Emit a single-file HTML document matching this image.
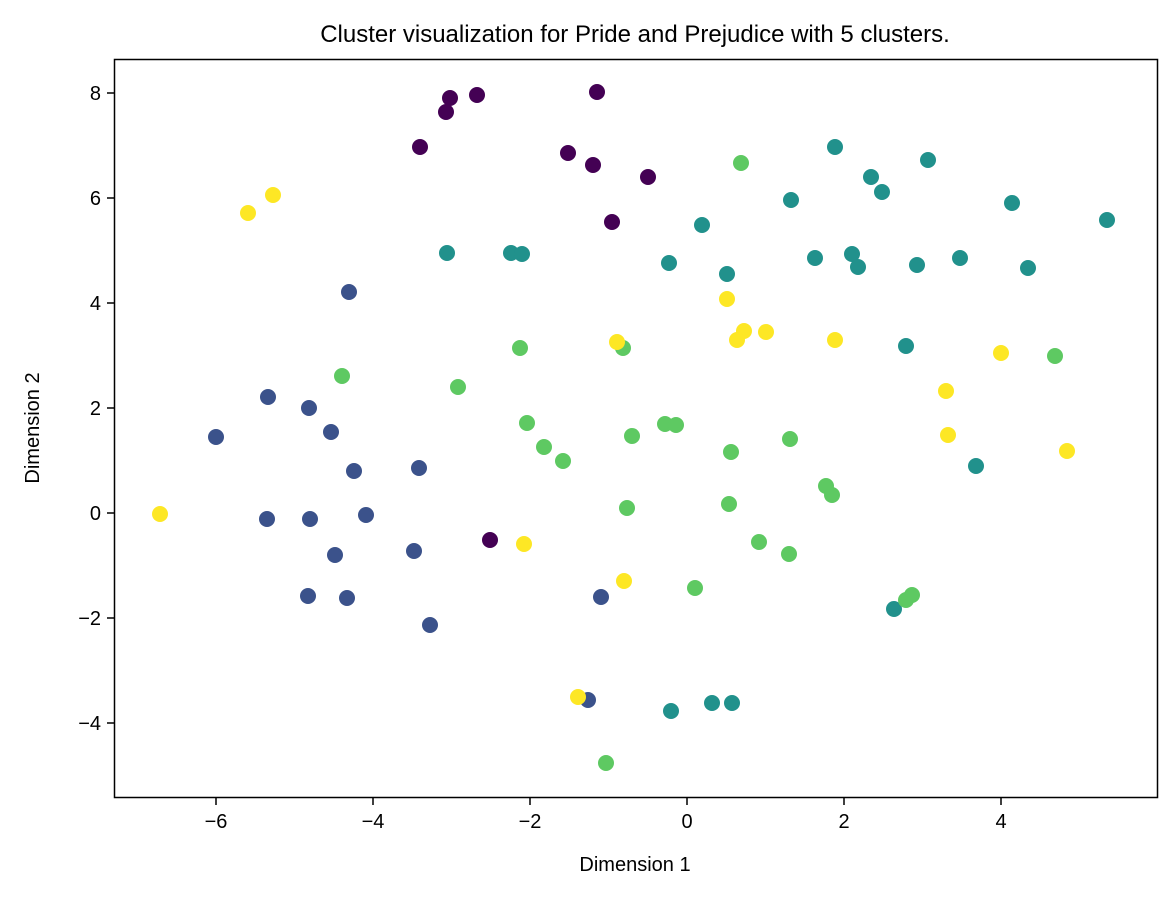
<!DOCTYPE html>
<html><head><meta charset="utf-8"><style>body{margin:0;background:#fff}svg{display:block}text{font-family:"Liberation Sans","DejaVu Sans",sans-serif;fill:#000}</style></head>
<body>
<svg width="1174" height="898" viewBox="0 0 1174 898" xmlns="http://www.w3.org/2000/svg">
<rect width="1174" height="898" fill="#fff"/>
<g stroke="none">
<g fill="#440154">
<circle cx="450" cy="98" r="8"/><circle cx="446" cy="112" r="8"/><circle cx="477" cy="95" r="8"/><circle cx="597" cy="92" r="8"/><circle cx="420" cy="147" r="8"/><circle cx="568" cy="153" r="8"/><circle cx="593" cy="165" r="8"/><circle cx="648" cy="177" r="8"/><circle cx="612" cy="222" r="8"/><circle cx="490" cy="540" r="8"/>
</g>
<g fill="#3b528b">
<circle cx="349" cy="292" r="8"/><circle cx="268" cy="397" r="8"/><circle cx="309" cy="408" r="8"/><circle cx="331" cy="432" r="8"/><circle cx="216" cy="437" r="8"/><circle cx="354" cy="471" r="8"/><circle cx="419" cy="468" r="8"/><circle cx="267" cy="519" r="8"/><circle cx="310" cy="519" r="8"/><circle cx="366" cy="515" r="8"/><circle cx="335" cy="555" r="8"/><circle cx="414" cy="551" r="8"/><circle cx="308" cy="596" r="8"/><circle cx="347" cy="598" r="8"/><circle cx="430" cy="625" r="8"/><circle cx="601" cy="597" r="8"/><circle cx="588" cy="700" r="8"/>
</g>
<g fill="#21918c">
<circle cx="447" cy="253" r="8"/><circle cx="511" cy="253" r="8"/><circle cx="522" cy="254" r="8"/><circle cx="669" cy="263" r="8"/><circle cx="702" cy="225" r="8"/><circle cx="727" cy="274" r="8"/><circle cx="791" cy="200" r="8"/><circle cx="835" cy="147" r="8"/><circle cx="871" cy="177" r="8"/><circle cx="882" cy="192" r="8"/><circle cx="928" cy="160" r="8"/><circle cx="815" cy="258" r="8"/><circle cx="852" cy="254" r="8"/><circle cx="858" cy="267" r="8"/><circle cx="917" cy="265" r="8"/><circle cx="960" cy="258" r="8"/><circle cx="1012" cy="203" r="8"/><circle cx="1028" cy="268" r="8"/><circle cx="1107" cy="220" r="8"/><circle cx="906" cy="346" r="8"/><circle cx="976" cy="466" r="8"/><circle cx="894" cy="609" r="8"/><circle cx="671" cy="711" r="8"/><circle cx="712" cy="703" r="8"/><circle cx="732" cy="703" r="8"/>
</g>
<g fill="#5ec962">
<circle cx="741" cy="163" r="8"/><circle cx="520" cy="348" r="8"/><circle cx="623" cy="348" r="8"/><circle cx="342" cy="376" r="8"/><circle cx="458" cy="387" r="8"/><circle cx="527" cy="423" r="8"/><circle cx="544" cy="447" r="8"/><circle cx="563" cy="461" r="8"/><circle cx="632" cy="436" r="8"/><circle cx="665" cy="424" r="8"/><circle cx="676" cy="425" r="8"/><circle cx="731" cy="452" r="8"/><circle cx="790" cy="439" r="8"/><circle cx="627" cy="508" r="8"/><circle cx="729" cy="504" r="8"/><circle cx="826" cy="486" r="8"/><circle cx="832" cy="495" r="8"/><circle cx="759" cy="542" r="8"/><circle cx="789" cy="554" r="8"/><circle cx="695" cy="588" r="8"/><circle cx="906" cy="600" r="8"/><circle cx="912" cy="595" r="8"/><circle cx="1055" cy="356" r="8"/><circle cx="606" cy="763" r="8"/>
</g>
<g fill="#fde725">
<circle cx="248" cy="213" r="8"/><circle cx="273" cy="195" r="8"/><circle cx="160" cy="514" r="8"/><circle cx="727" cy="299" r="8"/><circle cx="617" cy="342" r="8"/><circle cx="744" cy="331" r="8"/><circle cx="737" cy="340" r="8"/><circle cx="766" cy="332" r="8"/><circle cx="835" cy="340" r="8"/><circle cx="946" cy="391" r="8"/><circle cx="1001" cy="353" r="8"/><circle cx="948" cy="435" r="8"/><circle cx="1067" cy="451" r="8"/><circle cx="524" cy="544" r="8"/><circle cx="624" cy="581" r="8"/><circle cx="578" cy="697" r="8"/>
</g>
</g>
<rect x="114.5" y="59.5" width="1043" height="738" fill="none" stroke="#000" stroke-width="1.5"/>
<g stroke="#000" stroke-width="1.5">
<line x1="216" y1="798" x2="216" y2="805"/><line x1="373" y1="798" x2="373" y2="805"/><line x1="530" y1="798" x2="530" y2="805"/><line x1="687" y1="798" x2="687" y2="805"/><line x1="844" y1="798" x2="844" y2="805"/><line x1="1001" y1="798" x2="1001" y2="805"/>
<line x1="107" y1="93" x2="114" y2="93"/><line x1="107" y1="198" x2="114" y2="198"/><line x1="107" y1="303" x2="114" y2="303"/><line x1="107" y1="408" x2="114" y2="408"/><line x1="107" y1="513" x2="114" y2="513"/><line x1="107" y1="618" x2="114" y2="618"/><line x1="107" y1="723" x2="114" y2="723"/>
</g>
<g font-size="20" text-anchor="middle">
<text x="216" y="828">−6</text><text x="373" y="828">−4</text><text x="530" y="828">−2</text><text x="687" y="828">0</text><text x="844" y="828">2</text><text x="1001" y="828">4</text>
</g>
<g font-size="20" text-anchor="end">
<text x="101" y="100">8</text><text x="101" y="205">6</text><text x="101" y="310">4</text><text x="101" y="415">2</text><text x="101" y="520">0</text><text x="101" y="625">−2</text><text x="101" y="730">−4</text>
</g>
<text x="635" y="871" font-size="20" text-anchor="middle">Dimension 1</text>
<text transform="translate(39,428) rotate(-90)" font-size="20" text-anchor="middle">Dimension 2</text>
<text x="635" y="42" font-size="24" text-anchor="middle">Cluster visualization for Pride and Prejudice with 5 clusters.</text>
</svg>
</body></html>
